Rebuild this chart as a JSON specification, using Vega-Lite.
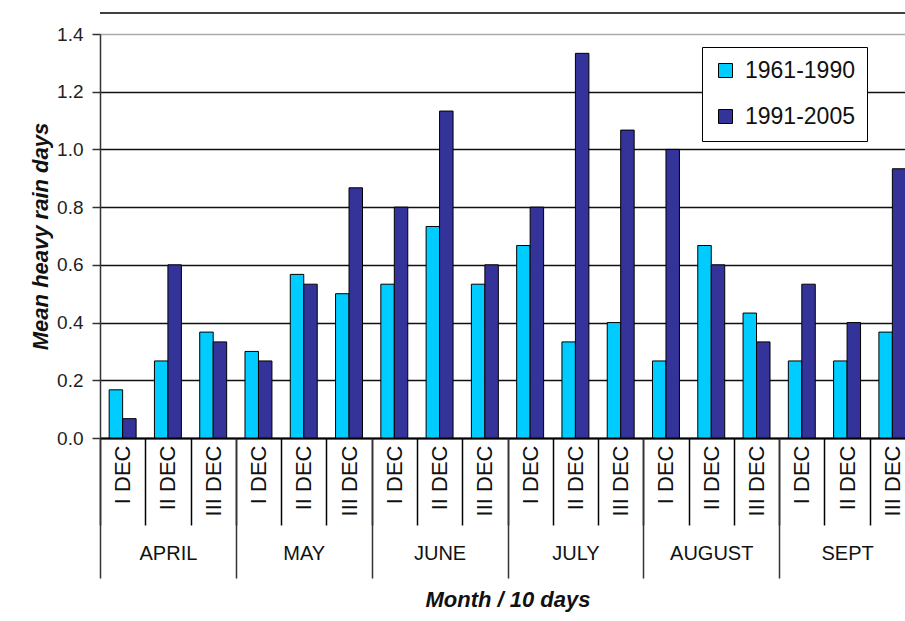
{
  "$schema": "https://vega.github.io/schema/vega-lite/v6.json",
  "autosize": {"type": "none"},
  "padding": {"left": 100, "top": 34, "right": 0, "bottom": 183},
  "width": 805,
  "height": 404,
  "background": "white",
  "config": {
    "font": "Liberation Sans",
    "view": {"stroke": null}
  },
  "datasets": {
    "rain": [
      {"month": "APRIL", "dec": "I DEC", "key": "APRIL|I DEC", "period": "1961-1990", "value": 0.167},
      {"month": "APRIL", "dec": "I DEC", "key": "APRIL|I DEC", "period": "1991-2005", "value": 0.067},
      {"month": "APRIL", "dec": "II DEC", "key": "APRIL|II DEC", "period": "1961-1990", "value": 0.267},
      {"month": "APRIL", "dec": "II DEC", "key": "APRIL|II DEC", "period": "1991-2005", "value": 0.6},
      {"month": "APRIL", "dec": "III DEC", "key": "APRIL|III DEC", "period": "1961-1990", "value": 0.367},
      {"month": "APRIL", "dec": "III DEC", "key": "APRIL|III DEC", "period": "1991-2005", "value": 0.333},
      {"month": "MAY", "dec": "I DEC", "key": "MAY|I DEC", "period": "1961-1990", "value": 0.3},
      {"month": "MAY", "dec": "I DEC", "key": "MAY|I DEC", "period": "1991-2005", "value": 0.267},
      {"month": "MAY", "dec": "II DEC", "key": "MAY|II DEC", "period": "1961-1990", "value": 0.567},
      {"month": "MAY", "dec": "II DEC", "key": "MAY|II DEC", "period": "1991-2005", "value": 0.533},
      {"month": "MAY", "dec": "III DEC", "key": "MAY|III DEC", "period": "1961-1990", "value": 0.5},
      {"month": "MAY", "dec": "III DEC", "key": "MAY|III DEC", "period": "1991-2005", "value": 0.867},
      {"month": "JUNE", "dec": "I DEC", "key": "JUNE|I DEC", "period": "1961-1990", "value": 0.533},
      {"month": "JUNE", "dec": "I DEC", "key": "JUNE|I DEC", "period": "1991-2005", "value": 0.8},
      {"month": "JUNE", "dec": "II DEC", "key": "JUNE|II DEC", "period": "1961-1990", "value": 0.733},
      {"month": "JUNE", "dec": "II DEC", "key": "JUNE|II DEC", "period": "1991-2005", "value": 1.133},
      {"month": "JUNE", "dec": "III DEC", "key": "JUNE|III DEC", "period": "1961-1990", "value": 0.533},
      {"month": "JUNE", "dec": "III DEC", "key": "JUNE|III DEC", "period": "1991-2005", "value": 0.6},
      {"month": "JULY", "dec": "I DEC", "key": "JULY|I DEC", "period": "1961-1990", "value": 0.667},
      {"month": "JULY", "dec": "I DEC", "key": "JULY|I DEC", "period": "1991-2005", "value": 0.8},
      {"month": "JULY", "dec": "II DEC", "key": "JULY|II DEC", "period": "1961-1990", "value": 0.333},
      {"month": "JULY", "dec": "II DEC", "key": "JULY|II DEC", "period": "1991-2005", "value": 1.333},
      {"month": "JULY", "dec": "III DEC", "key": "JULY|III DEC", "period": "1961-1990", "value": 0.4},
      {"month": "JULY", "dec": "III DEC", "key": "JULY|III DEC", "period": "1991-2005", "value": 1.067},
      {"month": "AUGUST", "dec": "I DEC", "key": "AUGUST|I DEC", "period": "1961-1990", "value": 0.267},
      {"month": "AUGUST", "dec": "I DEC", "key": "AUGUST|I DEC", "period": "1991-2005", "value": 1.0},
      {"month": "AUGUST", "dec": "II DEC", "key": "AUGUST|II DEC", "period": "1961-1990", "value": 0.667},
      {"month": "AUGUST", "dec": "II DEC", "key": "AUGUST|II DEC", "period": "1991-2005", "value": 0.6},
      {"month": "AUGUST", "dec": "III DEC", "key": "AUGUST|III DEC", "period": "1961-1990", "value": 0.433},
      {"month": "AUGUST", "dec": "III DEC", "key": "AUGUST|III DEC", "period": "1991-2005", "value": 0.333},
      {"month": "SEPT", "dec": "I DEC", "key": "SEPT|I DEC", "period": "1961-1990", "value": 0.267},
      {"month": "SEPT", "dec": "I DEC", "key": "SEPT|I DEC", "period": "1991-2005", "value": 0.533},
      {"month": "SEPT", "dec": "II DEC", "key": "SEPT|II DEC", "period": "1961-1990", "value": 0.267},
      {"month": "SEPT", "dec": "II DEC", "key": "SEPT|II DEC", "period": "1991-2005", "value": 0.4},
      {"month": "SEPT", "dec": "III DEC", "key": "SEPT|III DEC", "period": "1961-1990", "value": 0.367},
      {"month": "SEPT", "dec": "III DEC", "key": "SEPT|III DEC", "period": "1991-2005", "value": 0.933}
    ]
  },
  "layer": [
    {
      "data": {"name": "rain"},
      "mark": {"type": "bar", "stroke": "#000", "strokeWidth": 1},
      "encoding": {
        "x": {
          "field": "key", "type": "nominal", "sort": null,
          "scale": {"range": [0, 815], "paddingInner": 0, "paddingOuter": 0},
          "axis": {
            "orient": "bottom",
            "title": null,
            "labelExpr": "split(datum.label, '|')[1]",
            "labelAngle": 270,
            "labelAlign": "right",
            "labelBaseline": "middle",
            "labelFontSize": 22,
            "labelColor": "#111",
            "labelPadding": -80,
            "tickBand": "extent",
            "tickSize": 87,
            "tickColor": "#000",
            "tickWidth": 1.5,
            "domainColor": "#000",
            "domainWidth": 2,
            "grid": false
          }
        },
        "xOffset": {
          "field": "period", "type": "nominal",
          "scale": {"paddingInner": 0, "paddingOuter": 0.68}
        },
        "y": {
          "field": "value", "type": "quantitative",
          "scale": {"domain": [0, 1.4], "nice": false, "zero": true},
          "axis": {
            "title": "Mean heavy rain days",
            "titleFontSize": 22,
            "titleFontStyle": "italic",
            "titleFontWeight": "bold",
            "titleColor": "#111",
            "titlePadding": 4,
            "values": [0, 0.2, 0.4, 0.6, 0.8, 1.0, 1.2, 1.4],
            "format": ".1f",
            "labelFontSize": 19,
            "labelColor": "#222",
            "labelPadding": 9,
            "tickSize": 8,
            "tickColor": "#333",
            "tickWidth": 1.5,
            "domainColor": "#333",
            "domainWidth": 1.5,
            "grid": true,
            "gridColor": {"condition": {"test": "datum.value >= 1.39", "value": "#aaa"}, "value": "#111"},
            "gridWidth": 1.5
          }
        },
        "color": {
          "field": "period", "type": "nominal",
          "scale": {"domain": ["1961-1990", "1991-2005"], "range": ["#00CCFF", "#333399"]},
          "legend": {
            "orient": "none",
            "legendX": 602,
            "legendY": 13,
            "title": null,
            "padding": 12,
            "fillColor": "white",
            "strokeColor": "#000",
            "symbolType": "square",
            "symbolSize": 196,
            "symbolStrokeColor": "#000",
            "symbolStrokeWidth": 1,
            "labelFontSize": 23,
            "labelColor": "#111",
            "labelOffset": 8,
            "rowPadding": 22,
            "labelLimit": 300
          }
        }
      }
    },
    {
      "data": {"name": "rain"},
      "mark": {"type": "bar", "opacity": 0},
      "encoding": {
        "x": {
          "field": "month", "type": "nominal", "sort": null,
          "scale": {"range": [0, 815], "paddingInner": 0, "paddingOuter": 0},
          "axis": {
            "orient": "bottom",
            "title": "Month / 10 days",
            "titleFontSize": 22,
            "titleFontStyle": "italic",
            "titleFontWeight": "bold",
            "titleColor": "#111",
            "titlePadding": 11,
            "labelAngle": 0,
            "labelAlign": "center",
            "labelBaseline": "top",
            "labelFontSize": 20,
            "labelColor": "#111",
            "labelPadding": -35,
            "tickBand": "extent",
            "tickSize": 140,
            "tickColor": "#333",
            "tickWidth": 1.5,
            "domain": false,
            "grid": false
          }
        }
      }
    },
    {
      "data": {"values": [{"frame": 1.473}]},
      "mark": {"type": "rule", "color": "#000", "strokeWidth": 1.5},
      "encoding": {
        "y": {"field": "frame", "type": "quantitative"}
      }
    }
  ],
  "resolve": {"scale": {"x": "independent"}, "axis": {"x": "independent"}}
}
